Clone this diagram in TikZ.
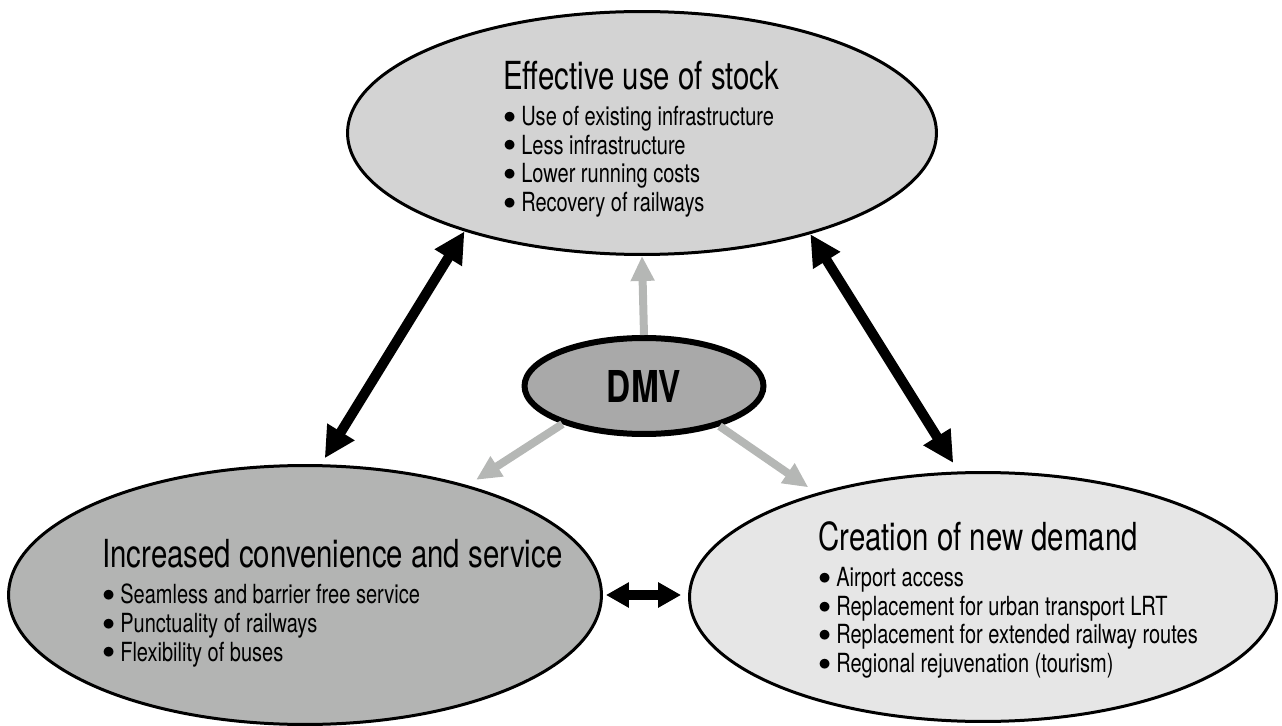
\documentclass[tikz,border=0pt]{standalone}
\usepackage{fontspec}
\setmainfont{TeX Gyre Heros}[FakeStretch=0.76]
\usetikzlibrary{shapes.geometric,arrows.meta,positioning}

\definecolor{stockfill}{RGB}{211,211,211}
\definecolor{servicefill}{RGB}{179,180,179}
\definecolor{demandfill}{RGB}{230,230,230}
\definecolor{dmvfill}{RGB}{169,169,169}
\definecolor{feedgray}{RGB}{181,183,181}

\newcommand{\itm}{\raisebox{0.08em}{$\bullet$}\hspace{0.2em}}

\tikzset{
  bubble/.style={ellipse, draw=black, line width=0.06cm, inner sep=0pt},
  title/.style={anchor=west, inner sep=0pt, font=\fontsize{22}{24}\selectfont},
  items/.style={inner sep=0pt, align=left, font=\fontsize{15}{16.3}\selectfont},
  link/.style={line width=0.2cm,
    {Triangle[length=0.62cm,width=0.6cm]}-{Triangle[length=0.62cm,width=0.6cm]}},
  shortlink/.style={line width=0.2cm,
    {Triangle[length=0.46cm,width=0.48cm]}-{Triangle[length=0.46cm,width=0.48cm]}},
  feed/.style={line width=0.16cm, draw=feedgray, -{Triangle[length=0.5cm,width=0.45cm]}}
}

\begin{document}
\begin{tikzpicture}[x=0.02cm,y=-0.02cm]
    \useasboundingbox (0,0) rectangle (1282,726);

    \node[bubble, fill=stockfill, minimum width=11.78cm, minimum height=4.86cm] (stock) at (642,133) {};
    \node[bubble, fill=servicefill, minimum width=11.86cm, minimum height=5.18cm] (service) at (305,595) {};
    \node[bubble, fill=demandfill, minimum width=11.74cm, minimum height=4.98cm] (demand) at (983,597) {};
    \node[bubble, fill=dmvfill, line width=0.12cm, minimum width=4.78cm, minimum height=1.92cm,
          font=\bfseries\fontsize{25}{27}\selectfont] (dmv) at (644,386) {DMV};

    % titles and bullet lists
    \node[title] (stock-title) at (503,76) {Effective use of stock};
    \node[items, below=0.3cm of stock-title.south west, anchor=north west] (stock-list)
      {\itm Use of existing infrastructure\\
       \itm Less infrastructure\\
       \itm Lower running costs\\
       \itm Recovery of railways};

    \node[title] (service-title) at (102,554) {Increased convenience and service};
    \node[items, below=0.3cm of service-title.south west, anchor=north west] (service-list)
      {\itm Seamless and barrier free service\\
       \itm Punctuality of railways\\
       \itm Flexibility of buses};

    \node[title] (demand-title) at (818,536) {Creation of new demand};
    \node[items, below=0.32cm of demand-title.south west, anchor=north west] (demand-list)
      {\itm Airport access\\
       \itm Replacement for urban transport LRT\\
       \itm Replacement for extended railway routes\\
       \itm Regional rejuvenation (tourism)};

    % links between the three fields
    \draw[link, shorten >=0.14cm] (stock.209) -- (service.83);
    \draw[link, shorten >=0.2cm] (stock.329) -- (demand.101);
    \draw[shortlink, shorten <=0.06cm, shorten >=0.14cm] (service.east) -- (service.east -| demand.west);

    % DMV feeds each field
    \draw[feed] (dmv.north) -- (stock.south);
    \draw[feed, shorten >=0.2cm] (dmv.205) -- (service.34);
    \draw[feed, shorten >=0.2cm] (dmv.332) -- (demand.148);
\end{tikzpicture}
\end{document}
